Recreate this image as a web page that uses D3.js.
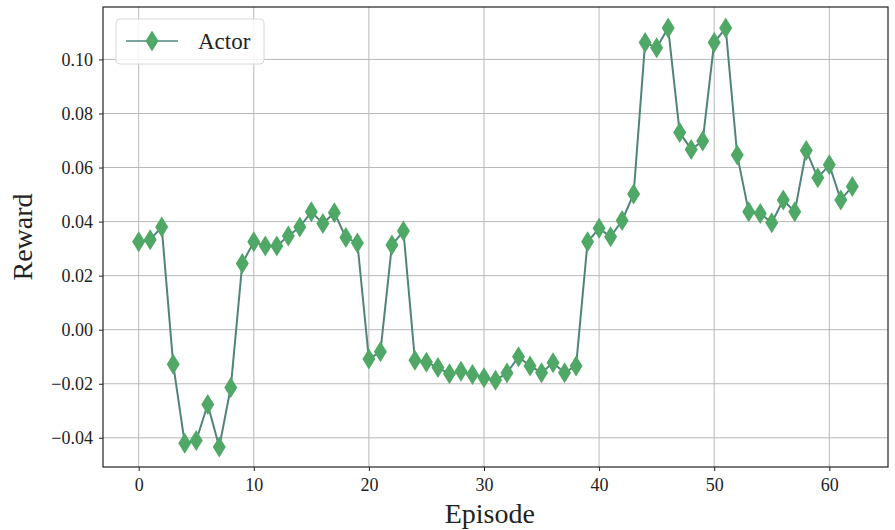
<!DOCTYPE html>
<html>
<head>
<meta charset="utf-8">
<script src="https://cdn.jsdelivr.net/npm/d3@7"></script>
<style>
  body { margin: 0; background: #fff; }
  text { font-family: "Liberation Serif", "DejaVu Serif", serif; fill: #222; }
</style>
</head>
<body>
<svg width="895" height="530"></svg>
<script>
// rewards per episode
var episodes = d3.range(0, 63);
var reward = [
  0.0325, 0.0333, 0.038, -0.0128, -0.042, -0.041, -0.0277, -0.0434, -0.0214, 0.0245,
  0.0325, 0.031, 0.031, 0.0347, 0.038, 0.0436, 0.0393, 0.0433, 0.0341, 0.0321,
  -0.0108, -0.0082, 0.0313, 0.0365, -0.0113, -0.0120, -0.014, -0.0163, -0.0154, -0.0166,
  -0.0178, -0.0187, -0.016, -0.010, -0.0134, -0.0159, -0.0122, -0.0159, -0.0134, 0.0325,
  0.0375, 0.0344, 0.0404, 0.0502, 0.1063, 0.1043, 0.1116, 0.073, 0.0667, 0.0698,
  0.1063, 0.1116, 0.0646, 0.0436, 0.043, 0.0396, 0.048, 0.0436, 0.0663, 0.0562,
  0.061, 0.048, 0.053
];
var xTicks = [0, 10, 20, 30, 40, 50, 60];
var yTicks = [-0.04, -0.02, 0.00, 0.02, 0.04, 0.06, 0.08, 0.10];
var seriesName = "Actor";

var svg = d3.select("svg"),
    margin = {top: 7, right: 7, bottom: 63, left: 103},
    width = 895 - margin.left - margin.right,
    height = 530 - margin.top - margin.bottom,
    g = svg.append("g").attr("transform", "translate(" + margin.left + "," + margin.top + ")");

var lineColor = "#52837a",
    markColor = "#4fa866";

var x = d3.scaleLinear().domain([-3.1, 65.1]).range([0, width]);
var y = d3.scaleLinear().domain([-0.0508, 0.1194]).range([height, 0]);

// grid
g.append("g").selectAll("line").data(xTicks).enter().append("line")
    .attr("x1", function(d) { return x(d); }).attr("x2", function(d) { return x(d); })
    .attr("y1", 0).attr("y2", height)
    .attr("stroke", "#b8b8b8").attr("stroke-width", 1);
g.append("g").selectAll("line").data(yTicks).enter().append("line")
    .attr("y1", function(d) { return y(d); }).attr("y2", function(d) { return y(d); })
    .attr("x1", 0).attr("x2", width)
    .attr("stroke", "#b8b8b8").attr("stroke-width", 1);

// axes
var xAxis = g.append("g")
    .attr("transform", "translate(0," + height + ")")
    .call(d3.axisBottom(x).tickValues(xTicks).tickSize(4).tickPadding(7).tickFormat(d3.format("d")));
var yAxis = g.append("g")
    .call(d3.axisLeft(y).tickValues(yTicks).tickSize(4).tickPadding(6).tickFormat(d3.format(".2f")));
[xAxis, yAxis].forEach(function(a) {
  a.select(".domain").remove();
  a.selectAll("line").attr("stroke", "#222");
  a.selectAll("text").style("font-family", "'Liberation Serif', serif").style("font-size", "18px").attr("fill", "#333");
});

g.append("rect")
    .attr("width", width).attr("height", height)
    .attr("fill", "none").attr("stroke", "#222").attr("stroke-width", 1.2);

// line + markers
var line = d3.line()
    .x(function(d, i) { return x(episodes[i]); })
    .y(function(d) { return y(d); });

g.append("path")
    .datum(reward)
    .attr("fill", "none")
    .attr("stroke", lineColor)
    .attr("stroke-width", 2)
    .attr("stroke-linejoin", "round")
    .attr("d", line);

var diamond = "M0,-10.5L6.5,0L0,10.5L-6.5,0Z";
g.append("g").selectAll("path").data(reward).enter().append("path")
    .attr("transform", function(d, i) { return "translate(" + x(episodes[i]) + "," + y(d) + ")"; })
    .attr("d", diamond)
    .attr("fill", markColor);

// axis labels
svg.append("text")
    .attr("x", margin.left + x(30.5)).attr("y", 523)
    .attr("text-anchor", "middle")
    .style("font-size", "28px")
    .text("Episode");
svg.append("text")
    .attr("transform", "translate(32," + (margin.top + height / 2) + ") rotate(-90)")
    .attr("text-anchor", "middle")
    .style("font-size", "28px")
    .text("Reward");

// legend
var leg = g.append("g").attr("transform", "translate(13,12)");
leg.append("rect")
    .attr("width", 148).attr("height", 45).attr("rx", 4)
    .attr("fill", "#fff").attr("fill-opacity", 0.85)
    .attr("stroke", "#d8d8d8");
leg.append("line")
    .attr("x1", 10).attr("x2", 62).attr("y1", 22).attr("y2", 22)
    .attr("stroke", lineColor).attr("stroke-width", 1.5);
leg.append("path")
    .attr("transform", "translate(36,22)")
    .attr("d", diamond)
    .attr("fill", markColor);
leg.append("text")
    .attr("x", 82).attr("y", 30)
    .style("font-size", "23px")
    .text(seriesName);
</script>
</body>
</html>
